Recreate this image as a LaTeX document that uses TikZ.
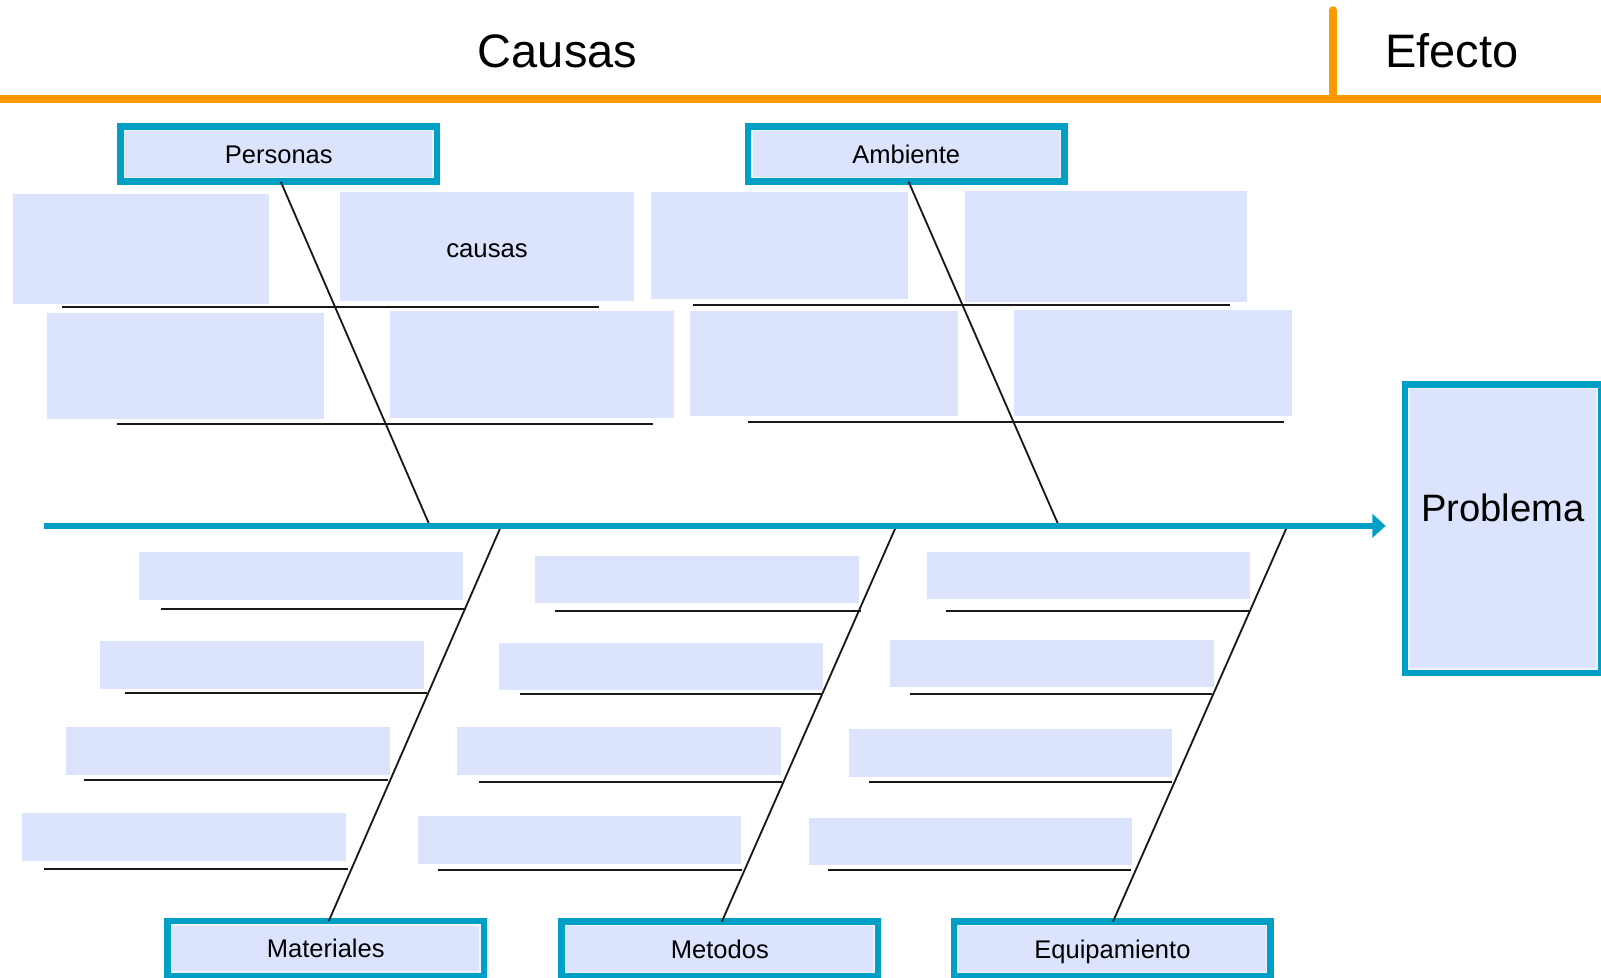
\documentclass[tikz,border=0pt]{standalone}
\usepackage{fontspec}
\setmainfont{Liberation Sans}
\usetikzlibrary{arrows.meta,fit}
\definecolor{lav}{RGB}{220,227,253}
\definecolor{tealc}{RGB}{0,160,198}
\definecolor{orng}{RGB}{255,153,0}
\definecolor{innerln}{RGB}{240,243,254}
\tikzset{
  hdr/.style={draw=tealc, line width=3.25pt, fill=lav, minimum width=155pt, minimum height=27pt,
    inner sep=0pt, outer sep=0pt, font=\fontsize{12.5}{15}\selectfont, text height=9pt, text depth=0pt},
  cause/.style={fill=lav, draw=none, inner sep=0pt, outer sep=0pt},
  rib/.style={draw=black!90, line width=1pt},
  bone/.style={draw=black!90, line width=0.9pt},
  spine/.style={draw=tealc, line width=2.8pt, -{Triangle[length=6.5pt,width=11.5pt]}},
  orangeline/.style={draw=orng, line width=3.9pt},
  bigtext/.style={anchor=base, font=\fontsize{23}{27}\selectfont},
  smalltext/.style={anchor=base, font=\fontsize{12.6}{15}\selectfont},
}
\newcommand{\innerframe}[1]{\draw[innerln, line width=0.6pt] ([xshift=2pt,yshift=-2pt]#1.north west) rectangle ([xshift=-2pt,yshift=2pt]#1.south east);}
\begin{document}
\begin{tikzpicture}[x=0.5pt, y=-0.5pt]
\useasboundingbox (0,0) rectangle (1568,957);
% header
\draw[orangeline] (0,97) -- (1568,97);
\draw[orangeline, line cap=round] (1305.6,97) -- (1305.6,10);
\node[bigtext] (tcausas) at (546,66.5) {Causas};
\node[bigtext] (tefecto) at (1422,66.5) {Efecto};
% cause boxes upper
\node[cause, fit={(13,190) (263,298)}] (c1) {};
\node[cause, fit={(333,188) (621,295)}] (c2) {};
\node[smalltext] (c2t) at (477,252.5) {causas};
\node[cause, fit={(46,307) (317,410)}] (c3) {};
\node[cause, fit={(382,305) (660,409)}] (c4) {};
\node[cause, fit={(638,188) (889,293)}] (c5) {};
\node[cause, fit={(945,187) (1221,296)}] (c6) {};
\node[cause, fit={(676,305) (938,407)}] (c7) {};
\node[cause, fit={(993,304) (1265,407)}] (c8) {};
% cause boxes lower
\node[cause, fit={(136,541) (453,588)}] (m1) {};
\node[cause, fit={(98,628) (415,675)}] (m2) {};
\node[cause, fit={(65,712) (382,759)}] (m3) {};
\node[cause, fit={(22,796) (339,843)}] (m4) {};
\node[cause, fit={(524,545) (841,591)}] (t1) {};
\node[cause, fit={(489,630) (806,676)}] (t2) {};
\node[cause, fit={(448,712) (765,759)}] (t3) {};
\node[cause, fit={(409,799) (726,846)}] (t4) {};
\node[cause, fit={(908,541) (1224,587)}] (e1) {};
\node[cause, fit={(872,627) (1189,673)}] (e2) {};
\node[cause, fit={(831,714) (1148,761)}] (e3) {};
\node[cause, fit={(792,801) (1109,847)}] (e4) {};
% ribs
\draw[rib] (61,301) -- (587,301);
\draw[rib] (115,415) -- (640,415);
\draw[rib] (679,299) -- (1205,299);
\draw[rib] (733,413) -- (1258,413);
\draw[rib] (158,596) -- (456,596);
\draw[rib] (122,679) -- (418,679);
\draw[rib] (82,764) -- (380,764);
\draw[rib] (43,851) -- (341,851);
\draw[rib] (544,598) -- (843,598);
\draw[rib] (509,680) -- (805,680);
\draw[rib] (469,766) -- (766,766);
\draw[rib] (429,852) -- (727,852);
\draw[rib] (926,598) -- (1224,598);
\draw[rib] (891,680) -- (1187,680);
\draw[rib] (851,766) -- (1148,766);
\draw[rib] (811,852) -- (1108,852);
% spine coordinates
\coordinate (tail) at (43,515);
\coordinate (head) at (1357,515);
\coordinate (sp1) at (421,515);
\coordinate (sp2) at (1037,515);
\coordinate (sp3) at (490,517);
\coordinate (sp4) at (877,517);
\coordinate (sp5) at (1260,517);
% header boxes
\node[hdr] (pers) at (273,151) {Personas};
\node[hdr] (amb) at (887.5,151) {Ambiente};
\node[hdr] (mat) at (319,929) {Materiales};
\node[hdr] (met) at (705,929.5) {Metodos};
\node[hdr] (equ) at (1089.5,929.5) {Equipamiento};
\innerframe{pers}\innerframe{amb}\innerframe{mat}\innerframe{met}\innerframe{equ}
% bones
\draw[bone] ([xshift=1pt]pers.south) -- (sp1);
\draw[bone] ([xshift=1.2pt]amb.south) -- (sp2);
\draw[bone] (sp3) -- ([xshift=1.5pt]mat.north);
\draw[bone] (sp4) -- ([xshift=1pt]met.north);
\draw[bone] (sp5) -- ([xshift=0.3pt]equ.north);
% spine
\draw[spine] (tail) -- (head);
% problem box
\node[draw=tealc, line width=3.25pt, fill=lav, minimum width=96pt, minimum height=141.25pt, inner sep=0pt, outer sep=0pt] (prob) at (1472,518) {};
\innerframe{prob}
\node[anchor=base, font=\fontsize{18.7}{22}\selectfont] (probt) at (1472,510.4) {Problema};
\end{tikzpicture}
\end{document}
